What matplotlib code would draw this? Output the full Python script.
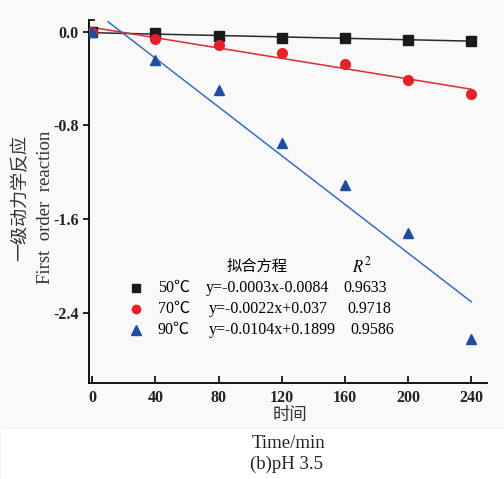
import numpy as np
import matplotlib.pyplot as plt
from matplotlib.patches import Rectangle

plt.rcParams['font.family'] = ['Liberation Serif', 'Noto Sans CJK SC']
plt.rcParams['mathtext.fontset'] = 'stix'

# 时间 (min)
time = [0, 40, 80, 120, 160, 200, 240]
# 一级动力学 ln(C/C0)
y50 = [0.0, -0.014, -0.04, -0.055, -0.057, -0.072, -0.083]
y70 = [0.0, -0.06, -0.11, -0.18, -0.28, -0.41, -0.53]
y90 = [0.0, -0.24, -0.50, -0.95, -1.31, -1.72, -2.62]

# 拟合参数 (斜率, 截距, R2)
fit50 = (-0.0003, -0.0084, '0.9633')
fit70 = (-0.0022, 0.037, '0.9718')
fit90 = (-0.0104, 0.1899, '0.9586')
eq_text = ['y=-0.0003x-0.0084', 'y=-0.0022x+0.037', 'y=-0.0104x+0.1899']
temp_labels = ['50℃', '70℃', '90℃']

fig = plt.figure(figsize=(5.04, 4.79), dpi=100, facecolor='#f9f9f9')
fig.patches.append(Rectangle((0, 0), 1, 51 / 479, transform=fig.transFigure,
                             facecolor='white', edgecolor='#eeeeee', lw=0.6, zorder=0))
ax = fig.add_axes([89 / 504, 1 - 383 / 479, 398 / 504, 363 / 479])
ax.set_facecolor('#f9f9f9')

series = [
    (y50, fit50, (0, 240), 's', '#1a1a1a', '#2a2a2a', 6.5),
    (y70, fit70, (0, 240), 'o', '#e8202a', '#e02a30', 7.0),
    (y90, fit90, (10, 240), '^', '#1f4ea0', '#3a6cc0', 7.5),
]
for ys, (k, b, r2), (x0, x1), mk, mc, lc, ms in series:
    xx = np.array([x0, x1])
    ax.plot(xx, k * xx + b, color=lc, lw=1.1, zorder=2)
    ax.plot(time, ys, ls='none', marker=mk, ms=ms, color=mc, zorder=3)

ax.set_xlim(-2, 250)
ax.set_ylim(-3.0, 0.1)
ax.set_xticks(time)
ax.set_yticks([0.0, -0.8, -1.6, -2.4])
ax.set_yticklabels(['0.0', '-0.8', '-1.6', '-2.4'])
for s in ['top', 'right']:
    ax.spines[s].set_visible(False)
for s in ['left', 'bottom']:
    ax.spines[s].set_linewidth(1.3)
ax.tick_params(axis='x', direction='in', length=5, width=1.2, labelsize=11.5, pad=5)
ax.tick_params(axis='y', direction='out', length=4, width=1.2, labelsize=11.5)
for lab in ax.get_xticklabels() + ax.get_yticklabels():
    lab.set_fontweight('bold')
    lab.set_color('#222222')
# 顶端短刻度
ax.plot([0, 0.012], [1, 1], transform=ax.transAxes, color='black', lw=1.2, clip_on=False)

# 拟合方程表
tr = ax.transAxes
def ax_xy(px, py):
    return ((px - 89) / 398, (383 - py) / 363)

ax.text(*ax_xy(257, 266), '拟合方程', transform=tr, ha='center', va='center',
        fontsize=11, family=['Noto Sans CJK SC'])
ax.text(*ax_xy(362, 266), r'$R^2$', transform=tr, ha='center', va='center', fontsize=12)
markers = [('s', '#1a1a1a', 5.5), ('o', '#e8202a', 6), ('^', '#1f4ea0', 6.5)]
eq_x = [267, 268, 272]
r2_x = [365, 369, 372]
for i, ((mk, mc, ms), fit) in enumerate(zip(markers, [fit50, fit70, fit90])):
    py = 288 + i * 21
    ax.plot(*ax_xy(136, py), marker=mk, ms=ms, color=mc, transform=tr, clip_on=False)
    ax.text(*ax_xy(174, py), temp_labels[i], transform=tr, ha='center', va='center', fontsize=11.5)
    ax.text(*ax_xy(eq_x[i], py), eq_text[i], transform=tr, ha='center', va='center', fontsize=11.5)
    ax.text(*ax_xy(r2_x[i], py), fit[2], transform=tr, ha='center', va='center', fontsize=11.5)

# 坐标轴标题
fig.text(20 / 504, 1 - 198 / 479, '一级动力学反应', rotation=90, ha='center', va='center',
         fontsize=13, family=['Noto Sans CJK SC'], color='#333333')
fig.text(46 / 504, 1 - 207 / 479, 'First  order  reaction', rotation=90, ha='center', va='center',
         fontsize=13.5, color='#333333')
fig.text(290 / 504, 1 - 415 / 479, '时间', ha='center', va='center', fontsize=12.5,
         family=['Noto Sans CJK SC'], color='#333333')
fig.text(288 / 504, 1 - 443 / 479, 'Time/min', ha='center', va='center', fontsize=13.5, color='#222222')
fig.text(286 / 504, 1 - 464 / 479, '(b)pH 3.5', ha='center', va='center', fontsize=13.5, color='#222222')

fig.savefig('out.png', dpi=100, facecolor=fig.get_facecolor())
